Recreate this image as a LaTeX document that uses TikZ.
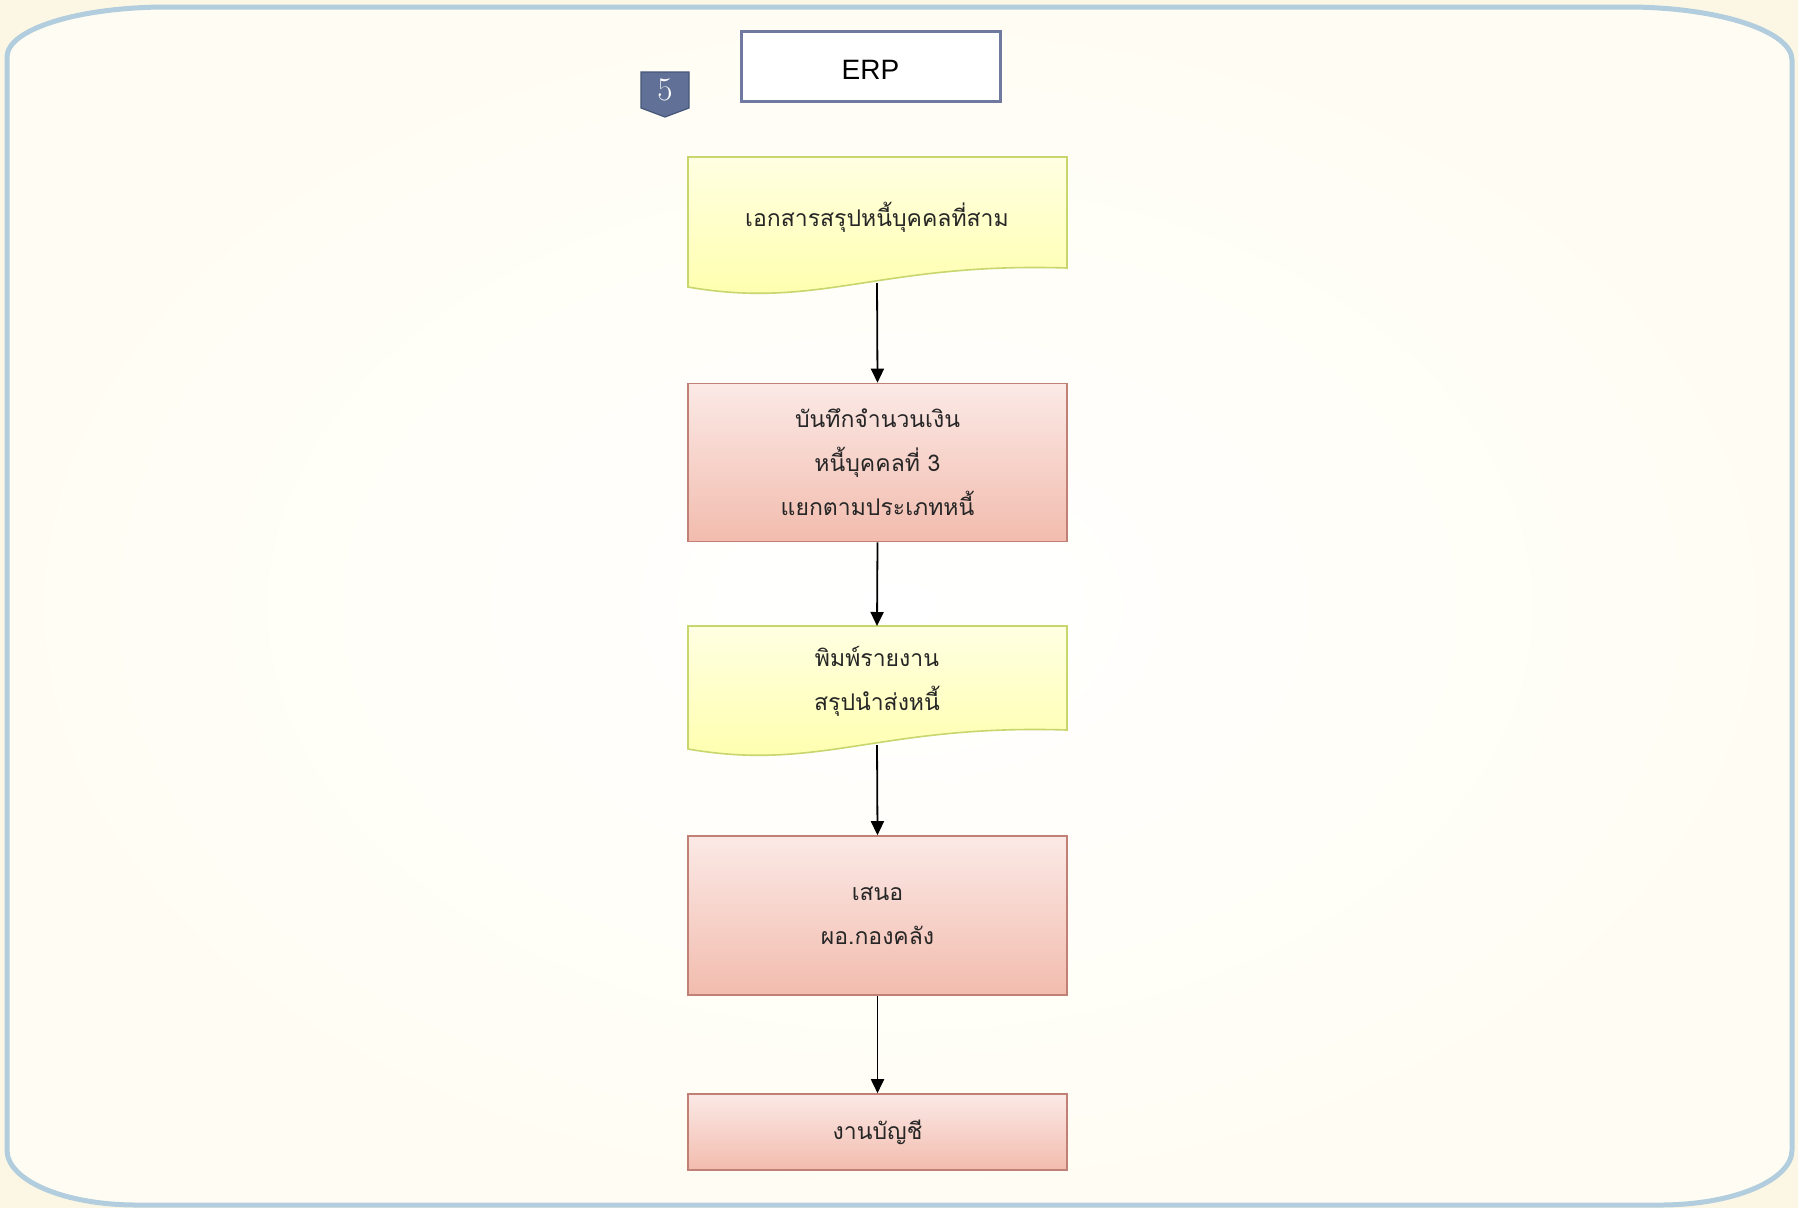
\documentclass[tikz,border=0pt]{standalone}
\usepackage{fontspec}
\newfontfamily\erpfont{Liberation Sans}
\newfontfamily\thaifont[Script=Thai]{Loma}
\usetikzlibrary{arrows.meta}
\definecolor{pagebg}{RGB}{252,247,229}
\definecolor{panelin}{RGB}{255,255,255}
\definecolor{panelout}{RGB}{255,253,243}
\definecolor{frameline}{RGB}{178,205,221}
\definecolor{erpline}{RGB}{112,122,160}
\definecolor{badgefill}{RGB}{96,112,150}
\definecolor{badgeline}{RGB}{70,86,120}
\definecolor{doctop}{RGB}{255,255,226}
\definecolor{docbot}{RGB}{255,255,170}
\definecolor{docline}{RGB}{200,214,110}
\definecolor{proctop}{RGB}{251,233,230}
\definecolor{procbot}{RGB}{242,188,174}
\definecolor{procline}{RGB}{192,128,118}
\tikzset{
  x=1pt, y=-1pt,
  thaitext/.style={font=\thaifont\fontsize{23}{44}\selectfont, align=center, text=black!85},
  procbox/.style={draw=procline, line width=1.6pt, top color=proctop, bottom color=procbot,
    minimum width=379pt, inner sep=0pt, thaitext},
  docshape/.style={draw=docline, line width=1.6pt, top color=doctop, bottom color=docbot},
  flow/.style={line width=1.8pt, -{Triangle[length=14pt,width=13pt]}},
}
\begin{document}
\begin{tikzpicture}
\useasboundingbox (0,0) rectangle (1798,1208);
% page background
\fill[pagebg] (0,0) rectangle (1798,1208);
% rounded panel
\path[inner color=panelin, outer color=panelout, draw=frameline, line width=5pt]
  (7,57) .. controls (7,29) and (79,7) .. (167,7)
  -- (1627,7) .. controls (1718,7) and (1792,31) .. (1792,60)
  -- (1792,1150) .. controls (1792,1180) and (1734,1205) .. (1660,1205)
  -- (137,1205) .. controls (63,1205) and (7,1180) .. (7,1150) -- cycle;

% system label
\node[draw=erpline, line width=3pt, fill=white, minimum width=259pt, minimum height=70pt,
  inner sep=0pt] (erp) at (870.5,66.5) {};
\node[font=\erpfont\fontsize{28}{30}\selectfont, inner sep=0pt] (erptext) at (870.5,70) {ERP};

% step badge
\path[fill=badgefill, draw=badgeline, line width=1.2pt]
  (641,72) -- (689,72) -- (689,108) -- (665,117) -- (641,108) -- cycle;
\node[text=white, font=\fontsize{33}{33}\selectfont, inner sep=0pt] (badge) at (665,90) {5};

% document: summary of third-party debts
\path[docshape] (688,157) -- (1067,157) -- (1067,268)
  .. controls (880,262) and (820,310) .. (688,287) -- cycle;
\node[thaitext] (doc1) at (877,217) {เอกสารสรุปหนี้บุคคลที่สาม};
\coordinate (doc1w) at (877,283);

% record amounts
\node[procbox, minimum height=158pt] (rec) at (877.5,462.5)
  {บันทึกจำนวนเงิน\\หนี้บุคคลที่ 3\\แยกตามประเภทหนี้};

% document: printed report
\path[docshape] (688,626) -- (1067,626) -- (1067,730)
  .. controls (880,724) and (820,772) .. (688,749) -- cycle;
\node[thaitext] (doc2) at (877,681) {พิมพ์รายงาน\\สรุปนำส่งหนี้};
\coordinate (doc2w) at (877,745);

% present to director
\node[procbox, minimum height=159pt] (prop) at (877.5,915.5)
  {เสนอ\\ผอ.กองคลัง};

% accounting
\node[procbox, minimum height=76pt] (acct) at (877.5,1132)
  {งานบัญชี};

% connectors
\draw[flow] (doc1w) -- (rec.north);
\draw[flow] (rec.south) -- (doc2.north |- 0,626);
\draw[flow] (doc2w) -- (prop.north);
\draw[flow] (prop.south) -- (acct.north);
\end{tikzpicture}
\end{document}
